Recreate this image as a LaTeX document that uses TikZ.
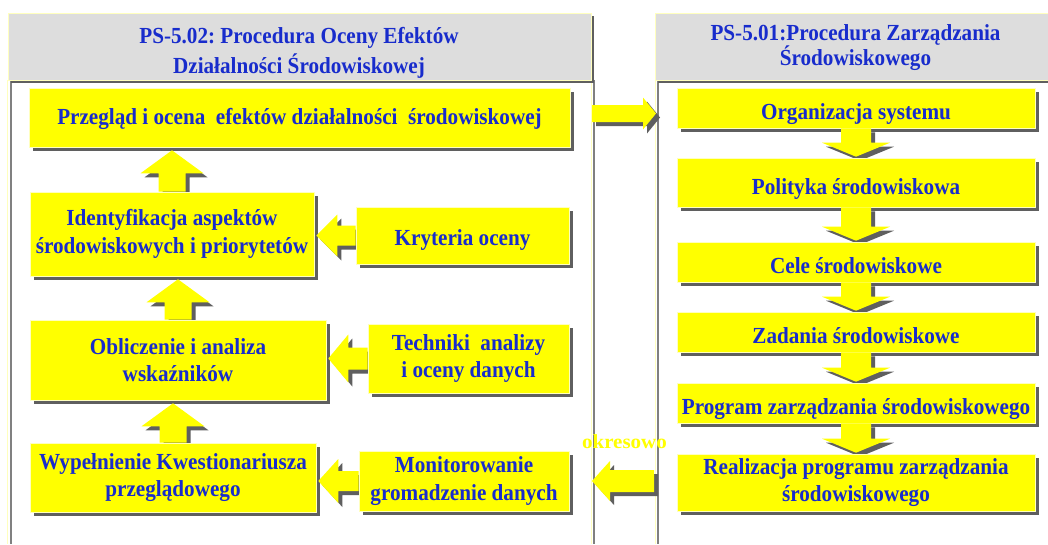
\documentclass[tikz,border=0pt]{standalone}
\usepackage{fontspec}
\setmainfont{Liberation Serif}
\newfontfamily\dfont[FakeStretch=0.92]{Liberation Serif}
\newfontfamily\ofont[FakeStretch=1.05]{Liberation Serif}
\usetikzlibrary{shadows,calc}
\frenchspacing
\pgfdeclarelayer{panel}
\pgfdeclarelayer{ashadow}
\pgfdeclarelayer{front}
\pgfsetlayers{panel,ashadow,main,front}
\definecolor{hdrgray}{RGB}{221,221,221}
\definecolor{shgray}{RGB}{95,95,95}
\definecolor{txtblue}{RGB}{24,44,204}
\definecolor{boxyellow}{RGB}{255,255,0}
\definecolor{paleyel}{RGB}{255,255,190}
\definecolor{linegray}{RGB}{128,128,128}
% block arrows, drawn from node to node
\newcommand\UpArr[3]{%
  \fill[#3] let \p1=(#1.north),\p2=(#2.south) in
    (\x1-13.5pt,\y1) -- (\x1-13.5pt,\y2-26pt) -- (\x1-31.5pt,\y2-26pt) -- (\x1,\y2-3pt)
    -- (\x1+31.5pt,\y2-26pt) -- (\x1+13.5pt,\y2-26pt) -- (\x1+13.5pt,\y1) -- cycle;}
\newcommand\DownArr[3]{%
  \fill[#3] let \p1=(#1.south),\p2=(#2.north) in
    (\x1-15pt,\y1) -- (\x1-15pt,\y2+15pt) -- (\x1-34pt,\y2+15pt) -- (\x1,\y2+1pt)
    -- (\x1+34pt,\y2+15pt) -- (\x1+15pt,\y2+15pt) -- (\x1+15pt,\y1) -- cycle;}
\newcommand\LeftArr[6]{%
  \fill[#3] let \p1=(#1.west),\p2=(#2.east) in
    (\x1,\y1+#4) -- (\x2+2pt+#6,\y1+#4) -- (\x2+2pt+#6,\y1+#5) -- (\x2+2pt,\y1)
    -- (\x2+2pt+#6,\y1-#5) -- (\x2+2pt+#6,\y1-#4) -- (\x1,\y1-#4) -- cycle;}
\newcommand\RightArr[6]{%
  \fill[#3] let \p1=(#1),\p2=(#2) in
    (\x1,\y1+#4) -- (\x2-#6,\y1+#4) -- (\x2-#6,\y1+#5) -- (\x2,\y1)
    -- (\x2-#6,\y1-#5) -- (\x2-#6,\y1-#4) -- (\x1,\y1-#4) -- cycle;}
\begin{document}
\begin{tikzpicture}[x=1pt,y=-1pt,
  dshadow/.style={drop shadow={shadow xshift=4pt,shadow yshift=-4pt,fill=shgray,opacity=1}},
  hshadow/.style={drop shadow={shadow xshift=3pt,shadow yshift=-3pt,fill=shgray,opacity=1}},
  ybox/.style={draw=paleyel,line width=0.6pt,fill=boxyellow,dshadow,inner sep=1pt,
    align=center,text=txtblue,font=\dfont\bfseries\fontsize{23}{27.5}\selectfont},
  rsingle/.style={text height=23.2pt,text depth=0pt},
  hdrbox/.style={draw=paleyel,line width=0.8pt,fill=hdrgray,hshadow,inner sep=0pt},
  hdrtext/.style={align=center,text=txtblue,inner sep=0pt},
  ashad/.style={fill=shgray,transform canvas={xshift=4pt,yshift=-4pt}},
  afill/.style={fill=boxyellow}
]
\useasboundingbox (0,0) rectangle (1048,544);
\begin{pgfonlayer}{panel}
  \fill[white] (0,0) rectangle (1048,544);
  % left panel body
  \draw[paleyel,line width=1pt] (7.5,80) -- (7.5,544);
  \draw[linegray,line width=1.2pt] (11,80) -- (11,544);
  \draw[paleyel,line width=1pt] (591,80) -- (591,544);
  \draw[linegray,line width=1.2pt] (594,80) -- (594,544);
  % right panel body
  \draw[paleyel,line width=1pt] (655,80) -- (655,544);
  \draw[linegray,line width=1.2pt] (658,80) -- (658,544);
\end{pgfonlayer}

% headers
\node[hdrbox,minimum width=583pt,minimum height=67pt] (lhead) at (299.5,46.5) {};
\node[hdrbox,minimum width=397pt,minimum height=67pt] (rhead) at (853.5,46.5) {};
\node[hdrtext,font=\dfont\bfseries\fontsize{23}{30}\selectfont] (lhtext) at (299,52.5)
  {PS-5.02: Procedura Oceny Efektów\\Działalności Środowiskowej};
\node[hdrtext,font=\dfont\bfseries\fontsize{23}{24.3}\selectfont] (rhtext) at (855.5,47.6)
  {PS-5.01:Procedura Zarządzania\\Środowiskowego};

% left column boxes
\node[ybox,text height=14.6pt,text depth=0pt,minimum width=541pt,minimum height=59pt] (top) at (299.5,117.5)
  {Przegląd i ocena~ efektów działalności~ środowiskowej};
\node[ybox,minimum width=284pt,minimum height=84pt] (ident) at (172,234)
  {Identyfikacja aspektów\\środowiskowych i priorytetów};
\node[ybox,text height=20.2pt,text depth=0pt,minimum width=213pt,minimum height=57pt] (kryt) at (462.5,235.5)
  {Kryteria oceny};
\node[ybox,minimum width=296pt,minimum height=80pt] (oblic) at (178,360)
  {Obliczenie i analiza\\wskaźników};
\node[ybox,minimum width=201pt,minimum height=69pt] (tech) at (468.5,358.5)
  {Techniki~ analizy\\i oceny danych};
\node[ybox,minimum width=286pt,minimum height=69pt] (wyp) at (173,477.5)
  {Wypełnienie Kwestionariusza\\przeglądowego};
\node[ybox,minimum width=210pt,minimum height=60pt] (mon) at (464,481)
  {Monitorowanie\\gromadzenie danych};

% right column boxes
\node[ybox,rsingle,minimum width=358pt,minimum height=40pt] (org) at (856,108) {Organizacja systemu};
\node[ybox,rsingle,minimum width=358pt,minimum height=49pt] (pol) at (856,182.5) {Polityka środowiskowa};
\node[ybox,rsingle,minimum width=358pt,minimum height=40pt] (cele) at (856,262) {Cele środowiskowe};
\node[ybox,rsingle,minimum width=358pt,minimum height=40pt] (zad) at (856,332) {Zadania środowiskowe};
\node[ybox,rsingle,minimum width=358pt,minimum height=40pt] (prog) at (856,403) {Program zarządzania środowiskowego};
\node[ybox,minimum width=358pt,minimum height=57pt] (real) at (856,482.5)
  {Realizacja programu zarządzania\\środowiskowego};

% free ends of the two panel-to-panel arrows
\coordinate (ls) at (592,113.5);
\coordinate (le) at (656,113.5);
\coordinate (rs) at (654,481);
\coordinate (re) at (590,481);

\begin{pgfonlayer}{ashadow}
  \UpArr{ident}{top}{ashad}
  \UpArr{oblic}{ident}{ashad}
  \UpArr{wyp}{oblic}{ashad}
  \LeftArr{kryt}{ident}{ashad}{10pt}{21pt}{21pt}
  \LeftArr{tech}{oblic}{ashad}{11pt}{24pt}{20pt}
  \LeftArr{mon}{wyp}{ashad}{10pt}{22pt}{20pt}
  \DownArr{org}{pol}{ashad}
  \DownArr{pol}{cele}{ashad}
  \DownArr{cele}{zad}{ashad}
  \DownArr{zad}{prog}{ashad}
  \DownArr{prog}{real}{ashad}
  \RightArr{ls}{le}{ashad}{8.5pt}{16pt}{13pt}
  \LeftArr{rs}{re}{ashad}{11pt}{20pt}{18pt}
\end{pgfonlayer}

\begin{pgfonlayer}{front}
  \UpArr{ident}{top}{afill}
  \UpArr{oblic}{ident}{afill}
  \UpArr{wyp}{oblic}{afill}
  \LeftArr{kryt}{ident}{afill}{10pt}{21pt}{21pt}
  \LeftArr{tech}{oblic}{afill}{11pt}{24pt}{20pt}
  \LeftArr{mon}{wyp}{afill}{10pt}{22pt}{20pt}
  \DownArr{org}{pol}{afill}
  \DownArr{pol}{cele}{afill}
  \DownArr{cele}{zad}{afill}
  \DownArr{zad}{prog}{afill}
  \DownArr{prog}{real}{afill}
  \RightArr{ls}{le}{afill}{8.5pt}{16pt}{13pt}
  \LeftArr{rs}{re}{afill}{11pt}{20pt}{18pt}
  \node[text=boxyellow,inner sep=0pt,font=\ofont\bfseries\fontsize{20}{24}\selectfont] (okr) at (624.5,441.5) {okresowo};
\end{pgfonlayer}
\end{tikzpicture}
\end{document}
